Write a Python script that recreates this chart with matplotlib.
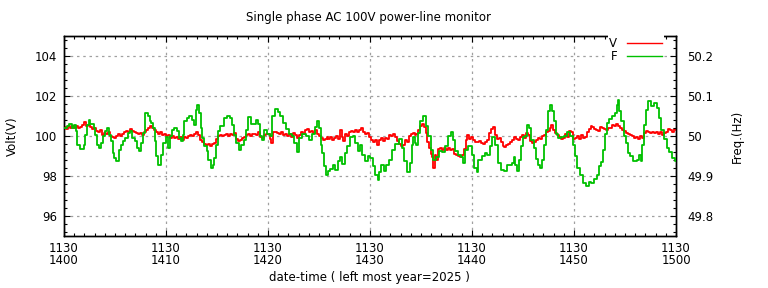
import matplotlib
matplotlib.use("Agg")
import matplotlib.pyplot as plt
from matplotlib.ticker import MultipleLocator, FixedLocator, FixedFormatter
from matplotlib.lines import Line2D

# ---- data (minutes after 14:00 on 11/30) ----
v_t = [0.00, 0.20, 0.39, 0.59, 0.78, 0.98, 1.18, 1.37, 1.57, 1.76, 1.96, 2.16, 2.35, 2.55, 2.75, 2.94,
       3.14, 3.33, 3.53, 3.73, 3.92, 4.12, 4.31, 4.51, 4.71, 4.90, 5.10, 5.29, 5.49, 5.69, 5.88, 6.08,
       6.27, 6.47, 6.67, 6.86, 7.06, 7.25, 7.45, 7.65, 7.84, 8.04, 8.24, 8.43,
       8.63, 8.82, 9.02, 9.21, 9.41, 9.61, 9.80, 10.00, 10.19, 10.39, 10.59, 10.78, 10.98, 11.18, 11.37,
       11.57, 11.76, 11.96, 12.16, 12.35, 12.55, 12.74, 12.94, 13.14, 13.33, 13.53, 13.72, 13.92, 14.12,
       14.31, 14.51, 14.70, 14.90, 15.10, 15.29, 15.49, 15.68, 15.88, 16.08, 16.27, 16.47, 16.67, 16.86, 17.06,
       17.26, 17.45, 17.65, 17.84, 18.04, 18.24, 18.43, 18.63, 18.82, 19.02, 19.22, 19.41, 19.61, 19.80,
       20.00, 20.20, 20.30, 20.46, 20.65, 20.85, 21.05, 21.24, 21.44, 21.64, 21.83, 22.03, 22.22, 22.42,
       22.62, 22.81, 23.01, 23.20, 23.40, 23.60, 23.79, 23.99, 24.18, 24.38, 24.58, 24.77, 24.97, 25.16,
       25.36, 25.56, 25.75,
       25.89, 26.08, 26.28, 26.47, 26.67, 26.87, 27.06, 27.23, 27.39, 27.59, 27.78, 27.98, 28.17, 28.37,
       28.57, 28.76, 28.96, 29.15, 29.35, 29.55, 29.74, 29.94, 30.13, 30.33, 30.53, 30.72, 30.92, 31.11,
       31.31, 31.51, 31.70, 31.90, 32.10, 32.29, 32.49, 32.68, 32.88, 33.08, 33.27, 33.47, 33.66, 33.86,
       34.06, 34.25, 34.45,
       34.51, 34.70, 34.90, 35.09, 35.29, 35.45, 35.62, 35.78, 35.94, 36.11, 36.21, 36.34, 36.50, 36.66,
       36.86, 37.06, 37.25, 37.45, 37.64, 37.84, 38.04, 38.23, 38.43, 38.62, 38.82, 39.02, 39.21, 39.38,
       39.54, 39.73, 39.93, 40.13, 40.32, 40.52, 40.72, 40.91, 41.11, 41.30, 41.50, 41.70, 41.89, 42.02,
       42.22, 42.41, 42.61, 42.81, 43.00,
       43.14, 43.33, 43.53, 43.72, 43.92, 44.12, 44.31, 44.51, 44.70, 44.90, 45.10, 45.29, 45.49, 45.69,
       45.88, 46.08, 46.27, 46.47, 46.67, 46.86, 47.06, 47.25, 47.45, 47.65, 47.78, 47.97, 48.17, 48.37,
       48.56, 48.76, 48.95, 49.15, 49.35, 49.54, 49.74, 49.93, 50.13, 50.33, 50.52, 50.72, 50.91, 51.11,
       51.31, 51.50, 51.70,
       51.77, 51.96, 52.16, 52.35, 52.55, 52.75, 52.94, 53.14, 53.33, 53.53, 53.73, 53.92, 54.12, 54.32,
       54.51, 54.71, 54.90, 55.10, 55.30, 55.49, 55.69, 55.88, 56.08, 56.28, 56.47, 56.67, 56.86, 57.06,
       57.26, 57.45, 57.65, 57.84, 58.04, 58.24, 58.43, 58.63, 58.82, 59.02, 59.22, 59.41, 59.61, 59.80, 60.00]
v_val = [100.45, 100.35, 100.50, 100.40, 100.50, 100.42, 100.52, 100.38, 100.45, 100.55, 100.68, 100.50,
         100.55, 100.45, 100.35, 100.38, 100.25, 100.20, 100.28, 100.07, 100.15, 100.10, 100.18, 100.00,
         99.95, 99.88, 99.98, 100.10, 100.00, 100.10, 100.20, 100.25, 100.20, 100.35, 100.25, 100.20,
         100.15, 100.10, 100.15, 100.05, 100.22, 100.30, 100.40, 100.48,
         100.40, 100.30, 100.18, 100.10, 100.20, 100.05, 100.12, 99.98, 100.05, 99.92, 100.00, 99.88,
         99.95, 99.85, 99.95, 99.80, 99.95, 99.90, 99.98, 100.05, 100.00, 100.10, 100.20, 100.05, 99.82,
         99.70, 99.62, 99.55, 99.60, 99.50, 99.58, 99.65, 99.85, 99.98, 100.05, 99.98, 100.05, 100.10,
         100.00, 100.12, 100.05, 100.15, 99.85, 99.75,
         99.78, 99.90, 99.95, 100.05, 100.08, 100.00, 100.10, 100.12, 100.05, 100.20, 99.95, 99.88,
         100.05, 100.12, 100.08, 99.85, 99.65, 100.18, 100.22, 100.15, 100.08, 100.18, 100.05, 100.12,
         100.00, 100.10, 99.95, 100.15, 100.05, 99.92, 100.05, 100.20, 100.12, 100.30, 100.35, 100.22,
         100.25, 100.15, 100.28, 100.10, 100.02, 99.90, 99.78, 99.85, 99.95,
         99.85, 99.95, 99.80, 99.90, 99.98, 99.85, 100.30, 99.95, 99.75, 100.10, 100.00, 100.18, 100.25,
         100.18, 100.28, 100.20, 100.30, 100.38, 100.20, 100.10, 100.15, 99.95, 99.80, 99.72, 99.78,
         99.55, 99.80, 99.90, 99.75, 99.92, 99.85, 100.05, 100.02, 100.08, 99.95, 99.75, 99.60, 99.48,
         99.55, 99.80, 99.68, 100.00, 100.10, 100.15, 100.05,
         100.10, 100.30, 100.50, 100.60, 100.45, 100.15, 99.70, 99.40, 99.10, 98.95, 98.40, 99.05, 98.80,
         99.35, 99.40, 99.30, 99.38, 99.30, 99.42, 99.32, 99.35, 99.10, 99.05, 99.00, 98.95, 99.05, 99.35,
         99.80, 100.05, 99.85, 99.95, 99.80, 99.72, 99.70, 99.75, 99.65, 99.62, 99.70, 99.80, 100.15,
         100.35, 100.45, 100.05, 99.85, 99.90, 99.70, 99.50,
         99.45, 99.55, 99.60, 99.70, 99.80, 99.95, 99.85, 99.80, 99.95, 100.05, 99.90, 100.15, 100.05,
         99.75, 99.65, 99.70, 99.82, 99.88, 99.85, 100.00, 100.05, 100.20, 100.25, 100.40, 100.55, 100.30,
         100.15, 100.05, 99.95, 99.85, 99.90, 100.10, 99.95, 100.25, 100.22, 99.85, 99.90, 100.00, 99.85,
         100.05, 99.90, 99.95, 100.20, 100.35, 100.50,
         100.45, 100.35, 100.30, 100.25, 100.45, 100.40, 100.35, 100.30, 100.40, 100.38, 100.55, 100.50,
         100.62, 100.48, 100.40, 100.30, 100.25, 100.15, 100.12, 100.05, 100.00, 99.92, 99.95, 99.85,
         100.00, 99.90, 100.15, 100.25, 100.20, 100.15, 100.22, 100.15, 100.22, 100.10, 100.20, 100.05,
         100.15, 100.20, 100.35, 100.30, 100.22, 100.35, 100.30]

f_t = [0.00, 0.29, 0.52, 0.78, 0.98, 1.18, 1.27, 1.60, 1.93, 2.09, 2.22, 2.42, 2.58, 2.94, 3.07, 3.20,
       3.40, 3.59, 3.79, 3.99, 4.22, 4.44, 4.64, 4.77, 4.93, 5.13, 5.36, 5.56, 5.75, 6.01, 6.24, 6.50,
       6.70, 6.93, 7.19, 7.39, 7.58, 7.75, 7.97, 8.24, 8.46,
       8.53, 8.69, 8.89, 9.05, 9.25, 9.48, 9.74, 9.97, 10.19, 10.39, 10.55, 10.78, 11.04, 11.31, 11.47,
       11.63, 11.80, 12.02, 12.29, 12.55, 12.74, 12.91, 13.04, 13.20, 13.40, 13.56, 13.76, 13.99, 14.15,
       14.38, 14.57, 14.74, 14.90, 15.10, 15.29, 15.49, 15.65, 15.95, 16.27, 16.44, 16.63, 16.86, 17.12,
       17.19, 17.39, 17.62, 17.81, 18.04, 18.30, 18.63, 18.79, 19.02, 19.22, 19.41, 19.64, 19.90, 20.20,
       20.43, 20.69, 20.98, 21.21, 21.44, 21.77, 22.06, 22.32, 22.55, 22.81, 23.01, 23.33, 23.73, 24.05,
       24.31, 24.58, 24.84, 25.03, 25.20, 25.33, 25.49, 25.69,
       25.85, 26.08, 26.34, 26.61, 26.87, 27.06, 27.26, 27.52, 27.78, 28.01, 28.30, 28.57, 28.83, 29.02,
       29.22, 29.51, 29.77, 30.04, 30.27, 30.53, 30.76, 30.92, 31.11, 31.38, 31.60, 31.90, 32.19, 32.49,
       32.81, 33.11, 33.37, 33.66, 33.89, 34.09, 34.25, 34.45,
       34.51, 34.73, 34.93, 35.19, 35.45, 35.68, 35.94, 36.17, 36.43, 36.73, 37.06, 37.38, 37.68, 37.90,
       38.13, 38.36, 38.59, 38.89, 39.11, 39.34, 39.64, 39.96, 40.23, 40.45, 40.62, 40.94, 41.24, 41.50,
       41.73, 41.99, 42.25, 42.55, 42.87,
       43.14, 43.43, 43.66, 43.89, 44.08, 44.25, 44.44, 44.64, 44.80, 45.00, 45.19, 45.42, 45.62, 45.82,
       46.04, 46.24, 46.47, 46.70, 46.89, 47.09, 47.25, 47.42, 47.61, 47.87, 48.07, 48.27, 48.46, 48.69,
       48.99, 49.31, 49.64, 49.87, 50.06, 50.33, 50.59, 50.85, 51.18, 51.50,
       51.70, 51.99, 52.26, 52.45, 52.65, 52.84, 53.01, 53.24, 53.43, 53.69, 53.99, 54.18, 54.32, 54.45,
       54.64, 54.87, 55.10, 55.33, 55.52, 55.82, 56.15, 56.34, 56.54, 56.70, 56.86, 57.06, 57.29, 57.55,
       57.84, 58.11, 58.33, 58.56, 58.82, 59.09, 59.35, 59.61, 59.87, 60.00]
f_val = [50.020, 50.024, 50.030, 50.020, 50.028, 50.012, 49.978, 49.968, 49.978, 50.003, 50.028, 50.041,
         50.030, 50.020, 50.003, 49.978, 49.970, 49.982, 49.999, 50.012, 50.020, 50.003, 49.987, 49.958,
         49.945, 49.938, 49.966, 49.978, 49.987, 49.995, 50.008, 50.012, 49.995, 49.987, 49.970, 49.962,
         49.982, 50.008, 50.058, 50.049, 50.037,
         50.033, 50.020, 49.987, 49.949, 49.928, 49.953, 49.982, 49.997, 49.971, 49.999, 50.016, 50.020,
         50.012, 49.995, 49.987, 50.003, 50.037, 50.045, 50.049, 50.041, 50.028, 50.066, 50.078, 50.058,
         50.020, 49.995, 49.974, 49.962, 49.941, 49.920, 49.928, 49.945, 49.978, 50.012, 50.024, 50.024,
         50.045, 50.049, 50.045, 50.028, 50.003, 49.982, 49.966,
         49.966, 49.978, 49.991, 50.016, 50.047, 50.030, 50.030, 50.041, 50.030, 49.999, 49.991, 50.016,
         50.005, 49.999, 50.049, 50.068, 50.060, 50.049, 50.033, 50.018, 50.005, 49.999, 49.982, 49.960,
         49.995, 50.005, 49.999, 49.991, 50.005, 50.022, 50.037, 50.020, 49.978, 49.958, 49.924, 49.903,
         49.912, 49.918, 49.928, 49.916, 49.937, 49.947, 49.930, 49.958, 49.974, 49.997, 49.999, 49.982,
         49.962, 49.977, 49.953, 49.937, 49.949, 49.945, 49.924, 49.903, 49.891, 49.910, 49.927, 49.913,
         49.927, 49.941, 49.966, 49.980, 49.993, 49.970, 49.937, 49.910, 49.932, 49.978, 49.997, 49.982,
         49.978, 50.008, 50.038, 50.049, 50.024, 49.999, 49.966, 49.941, 49.947, 49.962, 49.960, 49.974,
         49.999, 50.010, 49.991, 49.963, 49.952, 49.947, 49.932, 49.966, 49.974, 49.953, 49.920, 49.910,
         49.941, 49.949, 49.958, 49.953, 49.974, 49.997, 49.978, 49.932, 49.916,
         49.912, 49.927, 49.928, 49.932, 49.947, 49.928, 49.912, 49.941, 49.974, 49.997, 49.999, 50.027,
         50.020, 49.991, 49.971, 49.943, 49.928, 49.920, 49.941, 49.978, 50.016, 50.062, 50.078, 50.063,
         50.037, 50.005, 49.995, 49.997, 49.999, 50.010, 49.999, 49.978, 49.949, 49.920, 49.903, 49.883,
         49.874, 49.885,
         49.883, 49.893, 49.903, 49.924, 49.935, 49.966, 50.005, 50.033, 50.043, 50.049, 50.058, 50.078,
         50.091, 50.062, 50.038, 49.999, 49.982, 49.958, 49.949, 49.938, 49.941, 49.952, 49.938, 49.978,
         50.028, 50.066, 50.087, 50.074, 50.083, 50.070, 50.045, 50.016, 49.993, 49.971, 49.960, 49.945,
         49.938, 49.940]

x_ticks = [0, 10, 20, 30, 40, 50, 60]
x_ticklabels = ["1130\n1400", "1130\n1410", "1130\n1420", "1130\n1430",
                "1130\n1440", "1130\n1450", "1130\n1500"]
v_ticks = [96, 98, 100, 102, 104]
v_ticklabels = ["96", "98", "100", "102", "104"]
f_ticks = [49.8, 49.9, 50.0, 50.1, 50.2]
f_ticklabels = ["49.8", "49.9", "50", "50.1", "50.2"]

# ---- figure ----
plt.rcParams['font.family'] = ['DejaVu Sans']
FS = 8.5
fig = plt.figure(figsize=(7.68, 2.88), dpi=100)
ax = fig.add_axes([64/768, 1-236/288, (676-64)/768, 200/288])
ax2 = ax.twinx()

red = "#ff0000"
green = "#00c000"
lv, = ax.plot(v_t, v_val, color=red, lw=1.3, drawstyle='steps-post', zorder=3)
lf, = ax2.plot(f_t, f_val, color=green, lw=1.3, drawstyle='steps-post', zorder=3)

ax.set_xlim(0, 60)
ax.set_ylim(95, 105)
ax2.set_ylim(49.75, 50.25)

ax.xaxis.set_major_locator(FixedLocator(x_ticks))
ax.xaxis.set_major_formatter(FixedFormatter(x_ticklabels))
ax.xaxis.set_minor_locator(MultipleLocator(1))
ax.yaxis.set_major_locator(FixedLocator(v_ticks))
ax.yaxis.set_major_formatter(FixedFormatter(v_ticklabels))
ax.yaxis.set_minor_locator(MultipleLocator(0.4))
ax2.yaxis.set_major_locator(FixedLocator(f_ticks))
ax2.yaxis.set_major_formatter(FixedFormatter(f_ticklabels))
ax2.yaxis.set_minor_locator(MultipleLocator(0.02))

ax.tick_params(axis='x', which='both', direction='in', top=True, bottom=True, labelsize=FS, pad=4)
ax.tick_params(axis='y', which='both', direction='in', left=True, right=False, labelsize=FS, pad=5)
ax2.tick_params(axis='y', which='both', direction='in', right=True, left=False, labelsize=FS, pad=8)
for a in (ax, ax2):
    a.tick_params(which='major', length=4.5, width=0.8)
    a.tick_params(which='minor', length=2.5, width=0.8)
ax.tick_params(axis='x', which='major', labelsize=FS)
for lab in ax.get_xticklabels():
    lab.set_linespacing(0.95)

ax.grid(True, which='major', color='#a0a0a0', linestyle=(0, (2, 3)), linewidth=0.9)
ax.set_axisbelow(True)
for a in (ax, ax2):
    for s in a.spines.values():
        s.set_linewidth(1.0)
        s.set_color('black')

fig.text(369/768, 1-17/288, "Single phase AC 100V power-line monitor", ha='center', va='center', fontsize=FS)
fig.text(12/768, 1-136/288, "Volt(V)", rotation=90, ha='center', va='center', fontsize=FS)
fig.text(737/768, 1-136/288, "Freq.(Hz)", rotation=90, ha='center', va='center', fontsize=FS)
fig.text(369/768, 1-277/288, "date-time ( left most year=2025 )", ha='center', va='center', fontsize=FS)

handles = [Line2D([], [], color=red, lw=1.0), Line2D([], [], color=green, lw=1.0)]
leg = ax2.legend(handles, ["V", "F"], loc='upper right', bbox_to_anchor=(1-12/612, 1.005),
                 markerfirst=False, frameon=True, fontsize=FS, handlelength=3.0,
                 handletextpad=0.8, labelspacing=0.05, borderpad=0.15, borderaxespad=0.0,
                 fancybox=False)
leg.get_frame().set_facecolor('white')
leg.get_frame().set_edgecolor('none')
leg.get_frame().set_alpha(1.0)
leg.set_zorder(10)

fig.savefig("out.png", dpi=100)
